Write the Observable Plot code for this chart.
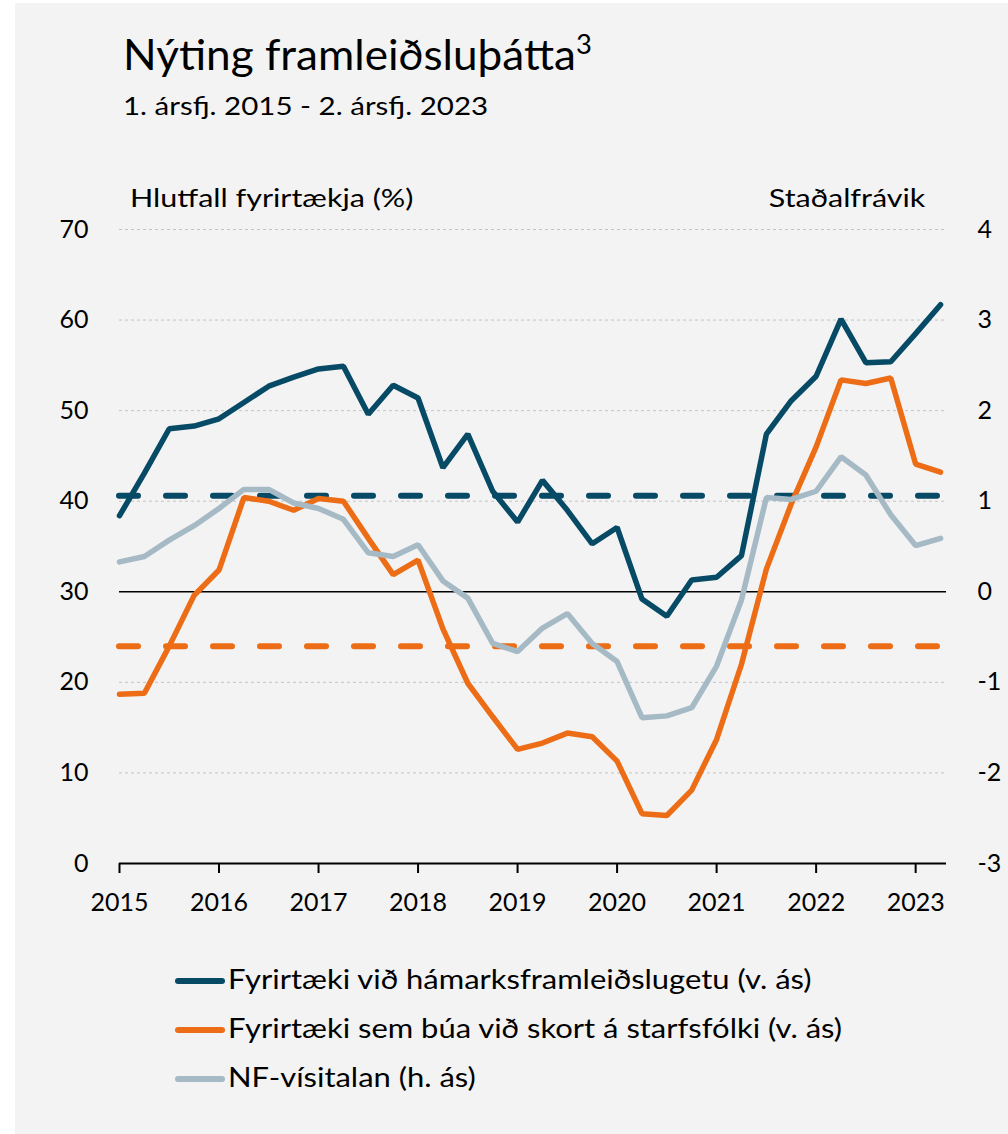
<!DOCTYPE html>
<html>
<head>
<meta charset="utf-8">
<script src="https://cdn.jsdelivr.net/npm/d3@7"></script>
<script src="https://cdn.jsdelivr.net/npm/@observablehq/plot@0.6"></script>
<style>
html, body { margin: 0; padding: 0; background: #ffffff; }
body { width: 1008px; height: 1134px; position: relative; overflow: hidden; font-family: Lato, "Open Sans", sans-serif; color: #000; }
#panel { position: absolute; left: 15px; top: 3px; width: 993px; height: 1131px; background: #f3f3f3; }
#chart { position: absolute; left: 0; top: 0; }
.t { position: absolute; white-space: nowrap; line-height: 1; }
#title { left: 123px; top: 33px; font-size: 42px; transform: scaleX(1.05); transform-origin: left center; }
#title sup { font-size: 0.62em; vertical-align: 0.62em; line-height: 0; }
#subtitle { left: 123px; top: 93px; font-size: 25px; transform: scaleX(1.18); transform-origin: left center; }
#ylabL { left: 130px; top: 185px; font-size: 25px; transform: scaleX(1.22); transform-origin: left center; }
#ylabR { right: 83px; top: 185px; font-size: 25px; transform: scaleX(1.22); transform-origin: right center; }
.leg { position: absolute; left: 175px; font-size: 26px; line-height: 1; white-space: nowrap; }
.leg .sw { position: absolute; left: 0; top: 12px; width: 50px; height: 6px; border-radius: 3px; }
.leg .lt { display: inline-block; margin-left: 53px; transform: scaleX(1.19); transform-origin: left center; }
</style>
</head>
<body>
<div id="panel"></div>
<div id="chart"></div>
<div class="t" id="title">Nýting framleiðsluþátta<sup>3</sup></div>
<div class="t" id="subtitle">1. ársfj. 2015 - 2. ársfj. 2023</div>
<div class="t" id="ylabL">Hlutfall fyrirtækja (%)</div>
<div class="t" id="ylabR">Staðalfrávik</div>
<div id="legend"></div>
<script>
// ---- Data ----
const quarterLabels = [
  "2015Q1","2015Q2","2015Q3","2015Q4",
  "2016Q1","2016Q2","2016Q3","2016Q4",
  "2017Q1","2017Q2","2017Q3","2017Q4",
  "2018Q1","2018Q2","2018Q3","2018Q4",
  "2019Q1","2019Q2","2019Q3","2019Q4",
  "2020Q1","2020Q2","2020Q3","2020Q4",
  "2021Q1","2021Q2","2021Q3","2021Q4",
  "2022Q1","2022Q2","2022Q3","2022Q4",
  "2023Q1","2023Q2"
];
// Fyrirtæki við hámarksframleiðslugetu (%, left axis)
const capacity = [38.4, 43.1, 48.0, 48.3, 49.1, 50.9, 52.7, 53.7, 54.6, 54.9, 49.6, 52.8, 51.4, 43.7, 47.4, 41.1, 37.7, 42.3, 39.0, 35.3, 37.1, 29.2, 27.3, 31.3, 31.6, 34.0, 47.4, 51.1, 53.8, 60.1, 55.3, 55.4, 58.5, 61.7];
// Fyrirtæki sem búa við skort á starfsfólki (%, left axis)
const shortage = [18.7, 18.8, 24.0, 29.6, 32.4, 40.4, 40.0, 39.0, 40.3, 40.0, 35.9, 31.9, 33.5, 25.9, 19.9, 16.2, 12.6, 13.3, 14.4, 14.0, 11.3, 5.5, 5.3, 8.1, 13.7, 22.0, 32.5, 39.7, 46.0, 53.4, 53.0, 53.6, 44.1, 43.2];
// NF-vísitalan (standard deviations, right axis)
const nfIndex = [0.33, 0.39, 0.57, 0.73, 0.92, 1.13, 1.13, 0.98, 0.92, 0.80, 0.43, 0.39, 0.52, 0.12, -0.07, -0.57, -0.66, -0.40, -0.24, -0.57, -0.77, -1.39, -1.37, -1.28, -0.82, -0.09, 1.04, 1.02, 1.11, 1.49, 1.29, 0.85, 0.51, 0.59];
// Long-run averages (dashed)
const avgCapacity = 40.6;
const avgShortage = 24.0;

const yearTicks = [2015, 2016, 2017, 2018, 2019, 2020, 2021, 2022, 2023];
const leftTicks = [0, 10, 20, 30, 40, 50, 60, 70];

const seriesNames = [
  "Fyrirtæki við hámarksframleiðslugetu (v. ás)",
  "Fyrirtæki sem búa við skort á starfsfólki (v. ás)",
  "NF-vísitalan (h. ás)"
];
const colors = ["#074a66", "#ec6d15", "#a6bac6"];

// ---- Derived ----
const toX = (lbl) => +lbl.slice(0, 4) + (+lbl.slice(5) - 1) / 4;
// right axis r maps to left value 30 + 10*r
const rightToLeft = (r) => 30 + 10 * r;
const leftToRight = (l) => (l - 30) / 10;

const rows = [];
quarterLabels.forEach((q, i) => {
  rows.push({x: toX(q), y: capacity[i], s: 0});
  rows.push({x: toX(q), y: shortage[i], s: 1});
  rows.push({x: toX(q), y: rightToLeft(nfIndex[i]), s: 2});
});

const W = 1008, H = 945;
const chart = Plot.plot({
  width: W,
  height: H,
  marginLeft: 119,
  marginRight: 62,
  marginTop: 229,
  marginBottom: 82,
  style: {background: "transparent", fontFamily: "Lato, 'Open Sans', sans-serif", fontSize: "25px", color: "#000", overflow: "visible"},
  x: {domain: [2015, 2023.31]},
  y: {domain: [0, 70]},
  marks: [
    Plot.gridY(leftTicks.filter(d => d !== 0 && d !== 30), {stroke: "#c4c4c4", strokeOpacity: 1, strokeWidth: 1, strokeDasharray: "3,3"}),
    Plot.ruleY([30], {stroke: "#000", strokeWidth: 1.6}),
    Plot.ruleY([avgCapacity], {stroke: colors[0], strokeWidth: 6, strokeDasharray: "19,28", strokeLinecap: "round"}),
    Plot.ruleY([avgShortage], {stroke: colors[1], strokeWidth: 6, strokeDasharray: "19,28", strokeLinecap: "round"}),
    Plot.line(rows.filter(d => d.s === 0), {x: "x", y: "y", stroke: colors[0], strokeWidth: 5.5, strokeLinecap: "round", strokeLinejoin: "miter"}),
    Plot.line(rows.filter(d => d.s === 1), {x: "x", y: "y", stroke: colors[1], strokeWidth: 5.5, strokeLinecap: "round", strokeLinejoin: "miter"}),
    Plot.line(rows.filter(d => d.s === 2), {x: "x", y: "y", stroke: colors[2], strokeWidth: 5.5, strokeLinecap: "round", strokeLinejoin: "miter"}),
    Plot.ruleY([0], {stroke: "#000", strokeWidth: 2}),
    Plot.axisX({ticks: yearTicks, tickFormat: d => String(d), tickSize: 10, tickPadding: 20, stroke: "#000", strokeWidth: 2, fontSize: 25, label: null}),
    Plot.axisY({anchor: "left", ticks: leftTicks, tickSize: 0, tickPadding: 31, fontSize: 25, label: null}),
    Plot.axisY({anchor: "right", ticks: leftTicks, tickFormat: d => String(leftToRight(d)), tickSize: 0, tickPadding: 31, fontSize: 25, label: null})
  ]
});
document.getElementById("chart").appendChild(chart);

// ---- Legend ----
const legend = document.getElementById("legend");
const legendTops = [966, 1015, 1064];
seriesNames.forEach((name, i) => {
  const row = document.createElement("div");
  row.className = "leg";
  row.style.top = legendTops[i] + "px";
  const sw = document.createElement("span");
  sw.className = "sw";
  sw.style.background = colors[i];
  const tx = document.createElement("span");
  tx.className = "lt";
  tx.textContent = name;
  row.appendChild(sw);
  row.appendChild(tx);
  legend.appendChild(row);
});
</script>
</body>
</html>
